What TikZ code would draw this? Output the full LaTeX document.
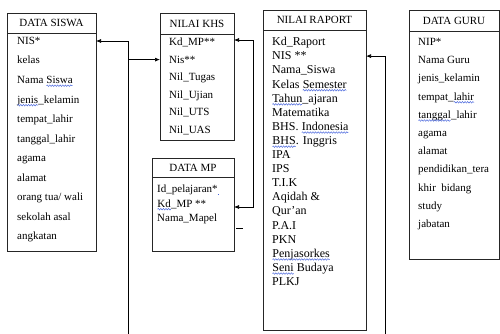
\documentclass[tikz,border=0pt]{standalone}
\usepackage{fontspec}
\setmainfont{Liberation Serif}
\usetikzlibrary{arrows.meta,decorations.pathmorphing}

\definecolor{ejaan}{RGB}{70,100,220}

\newcommand{\wavy}[1]{\tikz[baseline=(kata.base)]{\node[inner sep=0pt, outer sep=0pt, anchor=base] (kata) {#1};
	\draw[ejaan, line width=0.45pt, decorate, decoration={snake, amplitude=0.8pt, segment length=2.6pt}] ([yshift=-2.2pt]kata.base west) to ([yshift=-2.2pt]kata.base east);}}

\begin{document}
\begin{tikzpicture}[x=1pt, y=-1pt,
		tabel/.style={draw=black!85, line width=0.8pt, inner sep=0pt, outer sep=0pt, anchor=north},
		judul/.style={tabel, font=\fontsize{11}{13}\selectfont},
		baris/.style={anchor=west, inner sep=0pt, text height=8pt, text depth=3pt, font=\fontsize{11}{13}\selectfont},
		relasi/.style={-{Latex[length=5pt, width=4pt]}, black, line width=0.7pt}]

			\useasboundingbox (0, 0) rectangle (500, 334);

			\node[judul, anchor=north west, minimum width=89pt, minimum height=20pt] (siswaJudul) at (7, 13) {DATA SISWA};
			\node[tabel, minimum width=89pt, minimum height=218pt] (siswa) at (siswaJudul.south) {};
			\foreach \isi [count=\i] in {NIS*, kelas, Nama \wavy{Siswa}, \wavy{jenis}\_kelamin, tempat\_lahir, tanggal\_lahir, agama, alamat, orang tua/ wali, sekolah asal, angkatan} {
				\node[baris] (siswa\i) at (17, {42+19.5*(\i-1)}) {\isi};
			}

			\node[judul, anchor=north west, minimum width=74pt, minimum height=21pt] (khsJudul) at (160, 13) {NILAI KHS};
			\node[tabel, minimum width=74pt, minimum height=106pt] (khs) at (khsJudul.south) {};
			\foreach \isi [count=\i] in {Kd\_MP**, Nis**, Nil\_Tugas, Nil\_Ujian, Nil\_UTS, Nil\_UAS} {
				\node[baris] (khs\i) at (169, {43+17.6*(\i-1)}) {\isi};
			}

			\node[judul, anchor=north west, minimum width=82pt, minimum height=19pt] (mpJudul) at (152, 158) {DATA MP};
			\node[tabel, minimum width=82pt, minimum height=74pt] (mp) at (mpJudul.south) {};
			\foreach \isi [count=\i] in {Id\_pelajaran*\wavy{\hspace{4pt}}, \wavy{Kd}\_MP **, Nama\_Mapel} {
				\node[baris] (mp\i) at (157, {190+14.5*(\i-1)}) {\isi};
			}

			\node[judul, anchor=north west, minimum width=103pt, minimum height=20pt] (raportJudul) at (263, 10) {NILAI RAPORT};
			\node[tabel, minimum width=103pt, minimum height=300pt] (raport) at (raportJudul.south) {};
			\foreach \isi [count=\i] in {Kd\_Raport, NIS **, Nama\_Siswa, Kelas \wavy{Semester}, \wavy{Tahun}\_ajaran, Matematika, BHS. \wavy{Indonesia}, \wavy{BHS}. Inggris, IPA, IPS, T.I.K, Aqidah \&, Qur’an, P.A.I, PKN, \wavy{Penjasorkes}, \wavy{Seni} Budaya, PLKJ} {
				\node[baris, text height=8.5pt, font=\fontsize{12}{14}\selectfont] (raport\i) at (272, {43+14.1*(\i-1)}) {\isi};
			}

			\node[judul, anchor=north west, minimum width=90pt, minimum height=21pt] (guruJudul) at (409, 10) {DATA GURU};
			\node[tabel, minimum width=90pt, minimum height=228pt] (guru) at (guruJudul.south) {};
			\foreach \isi [count=\i] in {NIP*, Nama Guru, jenis\_kelamin, tempat\_\wavy{lahir}, \wavy{tanggal}\_lahir, agama, alamat, pendidikan\_tera, khir\ \ bidang, study, jabatan} {
				\node[baris] (guru\i) at (418, {43+18.2*(\i-1)}) {\isi};
			}

			\coordinate (siswaKaki) at (128, 334);
			\coordinate (raportKaki) at (385, 334);
			\coordinate (mpGarisA) at (236, 228);
			\coordinate (mpGarisB) at (243, 228);

			\draw[relasi]	(siswaKaki) |- ([yshift=1pt]siswa1 -| siswa.east);
			\draw[relasi]	([yshift=1pt]siswaKaki |- khs2) to ([yshift=1pt]khs2 -| khs.west);
			\draw[relasi, {Latex[length=5pt, width=4pt]}-{Latex[length=5pt, width=4pt]}]
							([yshift=3pt]khs1 -| khs.east) -- ++(19, 0) |- ([yshift=-2.5pt]mp2 -| mp.east);
			\draw[relasi]	(raportKaki) |- ([yshift=1pt]raport2 -| raport.east);
			\draw[black, line width=0.7pt]	(mpGarisA) to (mpGarisB);
		\end{tikzpicture}
\end{document}
